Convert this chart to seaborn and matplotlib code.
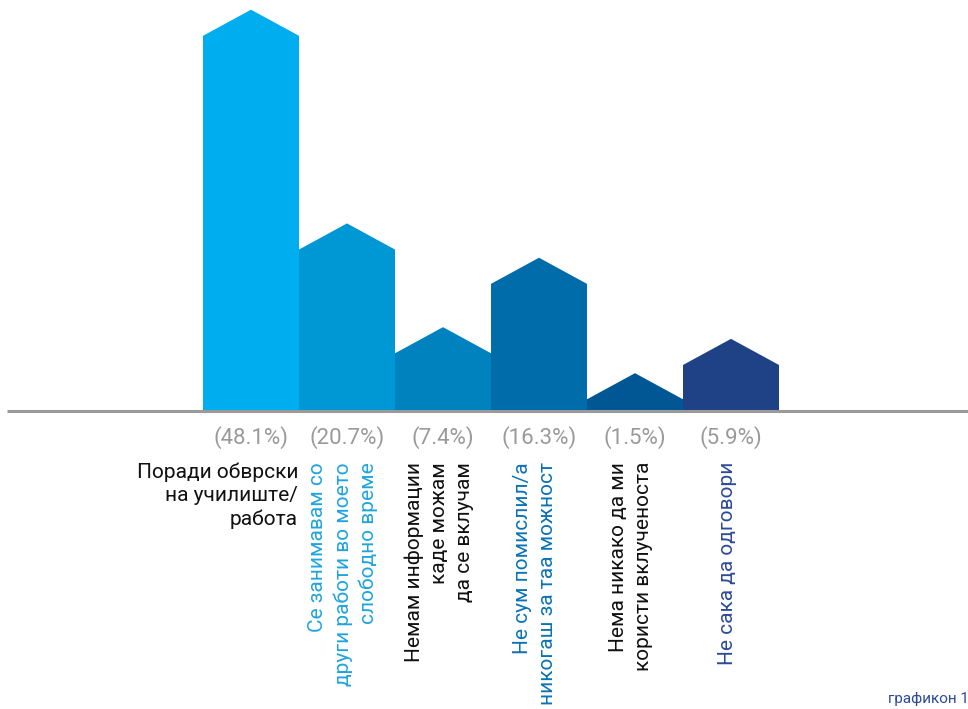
import matplotlib
matplotlib.use("Agg")
import matplotlib.pyplot as plt
import seaborn as sns
import pandas as pd
import numpy as np

# Data
categories = [
    "Поради обврски\nна училиште/\nработа",
    "Се занимавам со\nдруги работи во моето\nслободно време",
    "Немам информации\nкаде можам\nда се вклучам",
    "Не сум помислил/а\nникогаш за таа можност",
    "Нема никако да ми\nкористи вклученоста",
    "Не сака да одговори",
]
percent = [48.1, 20.7, 7.4, 16.3, 1.5, 5.9]
bar_colors = ["#00aeef", "#0098d4", "#0082bf", "#006caa", "#005794", "#1f4287"]
label_colors = ["#111111", "#1ea4de", "#111111", "#0a72b6", "#111111", "#2d4a9a"]
roof = 3.35  # height of the triangular roof on top of every bar, in % units

sns.set_style("white")
plt.rcParams['font.family'] = ['Roboto', 'DejaVu Sans']

df = pd.DataFrame({"cat": categories, "pct": percent})

fig = plt.figure(figsize=(9.68, 7.09), dpi=100)
ax = fig.add_axes([0, 0, 1, 1])

sns.barplot(data=df, x="cat", y="pct", hue="cat", palette=bar_colors,
            width=1.0, linewidth=0, legend=False, ax=ax, saturation=1)

# triangular roofs on each bar (base slightly overlapping the bar to hide the seam)
for patch, col in zip(ax.patches, bar_colors):
    x0 = patch.get_x()
    w = patch.get_width()
    h = patch.get_height()
    ax.fill([x0, x0, x0 + w / 2, x0 + w, x0 + w], [h - 0.3, h, h + roof, h, h - 0.3],
            color=col, linewidth=0)

# pixel mapping: bar width 96 px, first bar center at 251 px, baseline at 411 px
px_x = 96.0
px_y = 7.8
ax.set_xlim(-251 / px_x, (968 - 251) / px_x)
ax.set_ylim(-(709 - 411) / px_y, 411 / px_y)
ax.axis("off")

# baseline
ax.plot([-251 / px_x + 7 / px_x, (968 - 251) / px_x], [0, 0], color="#9a9a9a", lw=2.2,
        solid_capstyle="butt", zorder=5)

# percentage labels
for i, p in enumerate(percent):
    ax.text(i, -27 / px_y, f"({p}%)", ha="center", va="center",
            fontsize=16, color="#9a9a9a")

# category labels
label_top = -(462 - 411) / px_y
ax.text(0.49, label_top, categories[0], ha="right", va="top", multialignment="right",
        fontsize=15, color=label_colors[0], linespacing=1.3)
for i in range(1, len(categories)):
    ax.text(i - 0.04, label_top, categories[i], ha="center", va="top", rotation=90,
            multialignment="right", fontsize=15, color=label_colors[i],
            linespacing=1.38)

fig.text(888 / 968, 1 - 703 / 709, "графикон 1", ha="left", va="baseline",
         fontsize=11, color="#2d4a9a")

fig.savefig("out.png", dpi=100)
